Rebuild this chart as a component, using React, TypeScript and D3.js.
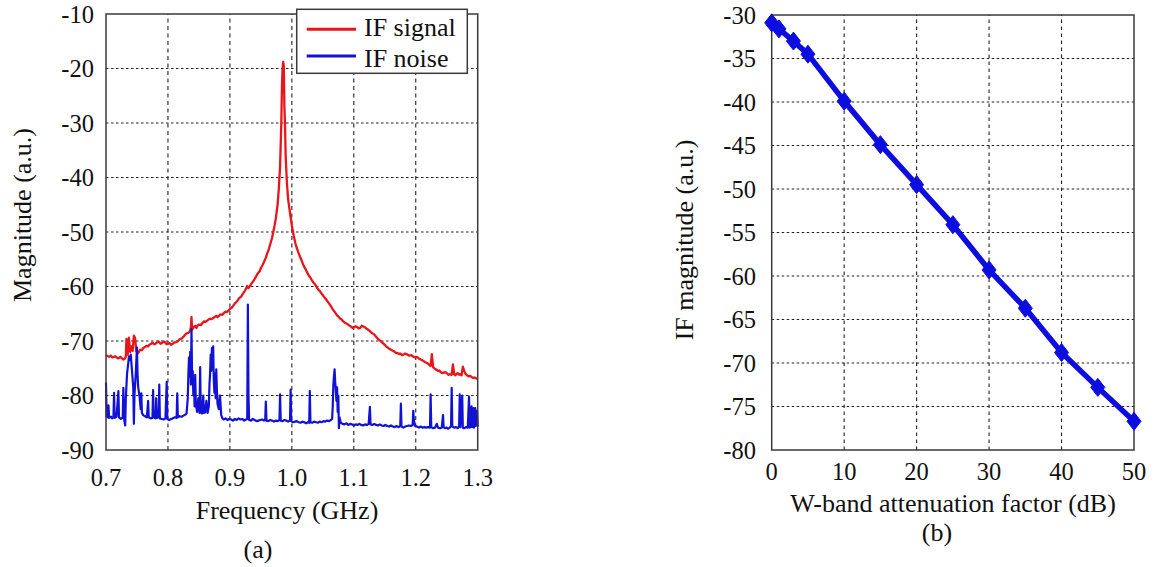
import React from "react";
import * as d3 from "d3";

// (a) IF spectrum: [frequency GHz, magnitude a.u.]
const ifSignal: [number, number][] = [
  [0.700, -72.6], [0.703, -72.8], [0.705, -72.9], [0.708, -72.7], [0.710, -73.0], [0.713, -72.9],
  [0.715, -72.8], [0.718, -73.1], [0.720, -73.2], [0.723, -72.9], [0.725, -73.1], [0.728, -73.4],
  [0.730, -73.3], [0.732, -72.9], [0.733, -69.6], [0.735, -72.5], [0.737, -69.4], [0.739, -72.0],
  [0.741, -71.0], [0.743, -71.8], [0.745, -69.0], [0.747, -69.5], [0.749, -71.9], [0.752, -72.2],
  [0.755, -71.6], [0.758, -71.7], [0.760, -71.3], [0.763, -71.1], [0.765, -70.9], [0.768, -71.0],
  [0.770, -70.7], [0.773, -70.5], [0.775, -70.3], [0.778, -70.6], [0.780, -70.5], [0.783, -70.2],
  [0.785, -70.1], [0.788, -70.5], [0.790, -70.4], [0.793, -70.1], [0.795, -70.2], [0.798, -70.6],
  [0.800, -70.5], [0.803, -70.4], [0.805, -70.7], [0.808, -70.5], [0.810, -70.3], [0.813, -70.2],
  [0.815, -70.1], [0.818, -69.8], [0.820, -69.6], [0.823, -69.5], [0.825, -69.2], [0.828, -68.8],
  [0.830, -68.6], [0.833, -68.5], [0.835, -68.3], [0.837, -67.6], [0.838, -65.6], [0.839, -67.9],
  [0.842, -67.4], [0.844, -67.2], [0.846, -67.6], [0.848, -67.1], [0.850, -67.0], [0.853, -67.1],
  [0.855, -66.8], [0.858, -66.4], [0.860, -66.5], [0.863, -66.3], [0.865, -66.1], [0.868, -65.9],
  [0.870, -66.0], [0.873, -65.8], [0.875, -65.6], [0.878, -65.4], [0.880, -65.6], [0.883, -65.3],
  [0.885, -65.1], [0.888, -65.2], [0.890, -64.9], [0.893, -64.6], [0.895, -64.7], [0.898, -64.4],
  [0.900, -64.1], [0.903, -63.9], [0.905, -63.6], [0.908, -63.1], [0.910, -62.9], [0.913, -62.5],
  [0.915, -62.1], [0.918, -61.9], [0.920, -61.5], [0.923, -61.0], [0.925, -60.6], [0.928, -59.9],
  [0.930, -60.3], [0.933, -59.8], [0.935, -59.4], [0.938, -59.0], [0.940, -58.6], [0.943, -58.0],
  [0.945, -57.6], [0.948, -57.2], [0.950, -56.6], [0.953, -56.0], [0.955, -55.5], [0.958, -54.7],
  [0.960, -54.0], [0.963, -53.1], [0.965, -52.3], [0.968, -51.1], [0.970, -50.0], [0.972, -48.9],
  [0.974, -47.6], [0.977, -45.0], [0.979, -42.0], [0.981, -38.0], [0.983, -30.0], [0.984, -23.5],
  [0.985, -20.0], [0.986, -18.8], [0.987, -19.5], [0.988, -27.0], [0.989, -30.5], [0.990, -36.0],
  [0.992, -41.0], [0.994, -44.0], [0.997, -46.5], [1.000, -48.8], [1.003, -50.7], [1.006, -52.2],
  [1.008, -52.9], [1.010, -53.6], [1.013, -54.5], [1.015, -55.0], [1.018, -55.9], [1.020, -56.4],
  [1.023, -57.0], [1.025, -57.5], [1.028, -58.1], [1.030, -58.4], [1.033, -59.0], [1.035, -59.3],
  [1.038, -59.7], [1.040, -60.1], [1.043, -60.6], [1.045, -60.8], [1.048, -61.3], [1.050, -61.6],
  [1.053, -62.1], [1.055, -62.3], [1.058, -62.8], [1.060, -63.1], [1.063, -63.6], [1.065, -64.0],
  [1.068, -64.5], [1.070, -64.8], [1.073, -65.3], [1.075, -65.5], [1.078, -65.9], [1.080, -66.0],
  [1.083, -66.4], [1.085, -66.6], [1.088, -66.8], [1.090, -66.9], [1.093, -67.2], [1.095, -67.3],
  [1.098, -67.6], [1.100, -67.5], [1.103, -67.3], [1.105, -67.4], [1.108, -67.7], [1.110, -67.6],
  [1.113, -67.2], [1.115, -67.3], [1.118, -67.5], [1.120, -67.7], [1.123, -67.9], [1.125, -68.1],
  [1.128, -68.4], [1.130, -68.6], [1.133, -68.8], [1.135, -69.1], [1.138, -69.5], [1.140, -69.7],
  [1.143, -70.0], [1.145, -70.2], [1.148, -70.5], [1.150, -70.7], [1.153, -71.1], [1.155, -71.2],
  [1.158, -71.5], [1.160, -71.6], [1.163, -71.8], [1.165, -71.9], [1.168, -72.2], [1.170, -72.2],
  [1.173, -72.4], [1.175, -72.3], [1.178, -72.6], [1.180, -72.5], [1.183, -72.3], [1.185, -72.4],
  [1.188, -72.6], [1.190, -72.7], [1.193, -72.6], [1.195, -72.8], [1.198, -73.0], [1.200, -72.9],
  [1.203, -73.0], [1.205, -73.2], [1.208, -73.4], [1.210, -73.5], [1.213, -73.7], [1.215, -73.9],
  [1.218, -74.0], [1.220, -74.2], [1.224, -74.6], [1.226, -72.4], [1.228, -74.8], [1.230, -75.0],
  [1.232, -75.2], [1.234, -75.3], [1.236, -75.5], [1.238, -75.4], [1.240, -75.7], [1.243, -75.9],
  [1.245, -75.8], [1.248, -75.7], [1.250, -75.9], [1.253, -76.2], [1.255, -76.1], [1.258, -76.2],
  [1.260, -74.3], [1.262, -76.1], [1.264, -76.3], [1.266, -76.0], [1.268, -75.9], [1.270, -76.2],
  [1.272, -76.1], [1.274, -76.3], [1.276, -74.7], [1.278, -75.4], [1.280, -76.0], [1.282, -76.2],
  [1.284, -76.4], [1.286, -76.5], [1.288, -76.4], [1.290, -76.6], [1.293, -76.8], [1.295, -76.7],
  [1.298, -76.9], [1.300, -76.9],
];

const ifNoise: [number, number][] = [
  [0.700, -77.6], [0.701, -83.8], [0.703, -84.0], [0.704, -81.8], [0.705, -84.1], [0.708, -83.9],
  [0.710, -84.2], [0.712, -84.0], [0.713, -79.5], [0.714, -84.1], [0.717, -83.9], [0.720, -79.2],
  [0.721, -84.0], [0.724, -84.3], [0.727, -84.0], [0.728, -78.6], [0.729, -84.2], [0.731, -85.5],
  [0.732, -80.5], [0.734, -76.0], [0.736, -74.0], [0.737, -72.8], [0.739, -73.5], [0.740, -72.5],
  [0.742, -75.5], [0.743, -77.0], [0.744, -78.5], [0.745, -85.2], [0.746, -79.8], [0.748, -76.0],
  [0.750, -71.2], [0.751, -76.5], [0.752, -78.5], [0.754, -80.0], [0.756, -82.5], [0.757, -79.6],
  [0.758, -83.2], [0.760, -83.6], [0.763, -83.8], [0.766, -84.0], [0.768, -81.0], [0.769, -84.0],
  [0.772, -84.2], [0.775, -84.1], [0.776, -79.0], [0.777, -84.0], [0.780, -84.2], [0.781, -80.5],
  [0.782, -84.1], [0.785, -84.0], [0.786, -78.0], [0.787, -84.2], [0.790, -84.3], [0.793, -84.4],
  [0.796, -84.2], [0.798, -77.5], [0.799, -84.3], [0.802, -84.5], [0.805, -84.3], [0.808, -84.2],
  [0.811, -84.0], [0.814, -84.1], [0.815, -79.6], [0.816, -84.0], [0.819, -83.8], [0.822, -83.9],
  [0.825, -83.7], [0.828, -83.5], [0.830, -83.3], [0.832, -80.5], [0.833, -76.0], [0.834, -73.0],
  [0.835, -76.5], [0.836, -72.0], [0.837, -78.0], [0.838, -67.8], [0.839, -77.0], [0.840, -75.5],
  [0.841, -80.0], [0.842, -77.0], [0.843, -82.0], [0.844, -76.2], [0.845, -81.5], [0.847, -83.0],
  [0.849, -80.5], [0.851, -83.2], [0.852, -74.8], [0.853, -83.0], [0.855, -83.3], [0.857, -80.0],
  [0.858, -83.2], [0.860, -83.1], [0.862, -81.0], [0.864, -83.2], [0.866, -82.0], [0.867, -78.0],
  [0.868, -76.0], [0.869, -72.5], [0.870, -75.5], [0.871, -71.3], [0.872, -74.0], [0.873, -71.0],
  [0.874, -77.0], [0.875, -79.5], [0.876, -76.0], [0.877, -80.5], [0.878, -75.2], [0.879, -79.0],
  [0.880, -81.5], [0.882, -82.5], [0.884, -80.0], [0.886, -83.6], [0.888, -84.2], [0.890, -84.4],
  [0.893, -84.2], [0.896, -84.5], [0.899, -84.3], [0.902, -84.4], [0.905, -84.6], [0.908, -84.3],
  [0.911, -84.5], [0.914, -84.2], [0.917, -84.4], [0.920, -84.3], [0.923, -84.6], [0.926, -84.4],
  [0.928, -84.3], [0.929, -63.3], [0.930, -80.0], [0.931, -84.5], [0.934, -84.6], [0.937, -84.3],
  [0.940, -84.5], [0.943, -84.7], [0.946, -84.6], [0.949, -84.5], [0.952, -84.4], [0.955, -84.6],
  [0.957, -84.5], [0.958, -81.1], [0.959, -84.6], [0.962, -84.7], [0.965, -84.5], [0.968, -84.6],
  [0.971, -84.8], [0.974, -84.6], [0.977, -84.7], [0.980, -84.5], [0.981, -79.8], [0.982, -84.6],
  [0.985, -84.7], [0.988, -84.5], [0.991, -84.6], [0.994, -84.8], [0.997, -84.6], [0.998, -78.9],
  [0.999, -84.7], [1.002, -84.9], [1.005, -84.8], [1.008, -84.7], [1.011, -84.9], [1.014, -85.0],
  [1.017, -84.8], [1.020, -84.9], [1.023, -85.1], [1.026, -84.9], [1.028, -85.0], [1.029, -79.2],
  [1.030, -84.9], [1.033, -85.0], [1.036, -84.8], [1.039, -84.9], [1.042, -85.0], [1.045, -84.8],
  [1.048, -84.9], [1.051, -84.7], [1.054, -84.8], [1.057, -84.6], [1.060, -84.7], [1.063, -84.5],
  [1.065, -84.3], [1.066, -82.0], [1.067, -78.0], [1.068, -76.5], [1.069, -75.2], [1.070, -77.5],
  [1.071, -79.0], [1.072, -81.0], [1.073, -78.5], [1.074, -83.0], [1.075, -80.0], [1.076, -86.0],
  [1.077, -84.0], [1.079, -85.0], [1.082, -85.2], [1.085, -85.3], [1.088, -85.1], [1.091, -85.4],
  [1.094, -85.2], [1.097, -85.3], [1.100, -85.5], [1.103, -85.3], [1.106, -85.4], [1.109, -85.2],
  [1.112, -85.4], [1.115, -85.5], [1.118, -85.3], [1.121, -85.4], [1.124, -85.2], [1.126, -82.1],
  [1.127, -85.3], [1.130, -85.4], [1.133, -85.2], [1.136, -85.4], [1.139, -85.5], [1.142, -85.3],
  [1.145, -85.5], [1.148, -85.6], [1.151, -85.4], [1.154, -85.6], [1.157, -85.7], [1.160, -85.5],
  [1.163, -85.7], [1.166, -85.8], [1.169, -85.6], [1.172, -85.8], [1.175, -85.6], [1.176, -81.5],
  [1.177, -85.7], [1.180, -85.9], [1.183, -85.7], [1.186, -85.6], [1.189, -85.5], [1.192, -85.6],
  [1.195, -85.4], [1.196, -82.8], [1.197, -84.5], [1.199, -85.6], [1.202, -85.7], [1.205, -85.9],
  [1.208, -85.7], [1.211, -85.9], [1.214, -85.8], [1.217, -85.9], [1.220, -85.8], [1.223, -85.9],
  [1.224, -79.8], [1.225, -85.8], [1.228, -86.0], [1.231, -85.9], [1.234, -85.2], [1.236, -85.9],
  [1.239, -86.0], [1.242, -85.9], [1.244, -83.6], [1.245, -85.8], [1.247, -86.0], [1.250, -85.9],
  [1.252, -86.1], [1.255, -85.9], [1.257, -85.6], [1.258, -78.6], [1.259, -85.7], [1.262, -85.9],
  [1.265, -85.8], [1.268, -86.0], [1.270, -85.7], [1.271, -79.8], [1.272, -85.8], [1.275, -80.0],
  [1.276, -85.9], [1.278, -86.0], [1.281, -85.8], [1.284, -85.9], [1.286, -80.2], [1.287, -85.9],
  [1.289, -85.7], [1.290, -82.0], [1.291, -85.8], [1.293, -82.3], [1.294, -85.9], [1.296, -82.3],
  [1.297, -85.6], [1.299, -82.8], [1.300, -85.7],
];

const freqTicks = [0.7, 0.8, 0.9, 1.0, 1.1, 1.2, 1.3];
const magTicks = [-90, -80, -70, -60, -50, -40, -30, -20, -10];

// (b) IF magnitude against W-band attenuation
const attenuationDb = [0, 1, 3, 5, 10, 15, 20, 25, 30, 35, 40, 45, 50];
const ifMagnitude = [-30.9, -31.6, -33.0, -34.5, -39.9, -44.9, -49.5, -54.1, -59.3, -63.7, -68.8, -72.8, -76.7];
const attTicks = [0, 10, 20, 30, 40, 50];
const ifMagTicks = [-80, -75, -70, -65, -60, -55, -50, -45, -40, -35, -30];

const FONT = "'Liberation Serif', 'Times New Roman', Times, serif";
const RED = "#e8161b";
const BLUE = "#1212d6";
const BLUE_B = "#0d0de0";
const BOX = "#3a3a3a";

export default function App() {
  // panel (a)
  const xA = d3.scaleLinear().domain([0.7, 1.3]).range([106, 477.7]);
  const yA = d3.scaleLinear().domain([-90, -10]).range([450, 14]);
  const lineA = d3
    .line<[number, number]>()
    .x((d) => xA(d[0]))
    .y((d) => yA(d[1]));

  // panel (b)
  const xB = d3.scaleLinear().domain([0, 50]).range([771.7, 1134]);
  const yB = d3.scaleLinear().domain([-80, -30]).range([450, 15]);
  const ptsB: [number, number][] = attenuationDb.map((a, i) => [a, ifMagnitude[i]]);
  const lineB = d3
    .line<[number, number]>()
    .x((d) => xB(d[0]))
    .y((d) => yB(d[1]));

  const diamond = (cx: number, cy: number) =>
    `M${cx},${cy - 9}L${cx + 7},${cy}L${cx},${cy + 9}L${cx - 7},${cy}Z`;

  const txt = { fontFamily: FONT, fill: "#111" };

  return (
    <svg
      width={1154}
      height={567}
      style={{ position: "absolute", left: 0, top: 0, background: "#fff", fontFamily: FONT }}
    >
      <rect x={0} y={0} width={1154} height={567} fill="#fff" />

      {/* ---------- panel (a) ---------- */}
      <g>
        {freqTicks.slice(1, -1).map((t) => (
          <line key={`gx${t}`} x1={xA(t)} x2={xA(t)} y1={yA(-90)} y2={yA(-10)}
            stroke="#222" strokeWidth={1.1} strokeDasharray="4,3.5" />
        ))}
        {magTicks.slice(1, -1).map((t) => (
          <line key={`gy${t}`} x1={xA(0.7)} x2={xA(1.3)} y1={yA(t)} y2={yA(t)}
            stroke="#222" strokeWidth={1.1} strokeDasharray="2.5,2.5" />
        ))}
        <path d={lineA(ifSignal) || ""} fill="none" stroke={RED} strokeWidth={2.3} strokeLinejoin="round" />
        <path d={lineA(ifNoise) || ""} fill="none" stroke={BLUE} strokeWidth={2.2} strokeLinejoin="round" />
        <rect x={xA(0.7)} y={yA(-10)} width={xA(1.3) - xA(0.7)} height={yA(-90) - yA(-10)}
          fill="none" stroke={BOX} strokeWidth={1.5} />

        {magTicks.map((t) => (
          <text key={`ly${t}`} x={94} y={yA(t) + 8.5} fontSize={24.5} textAnchor="end" style={txt}>
            {t}
          </text>
        ))}
        {freqTicks.map((t) => (
          <text key={`lx${t}`} x={xA(t)} y={486} fontSize={24.5} textAnchor="middle" style={txt}>
            {t.toFixed(1)}
          </text>
        ))}
        <text x={287} y={519} fontSize={26} textAnchor="middle" style={txt}>Frequency (GHz)</text>
        <text x={258} y={558} fontSize={26} textAnchor="middle" style={txt}>(a)</text>
        <text transform="translate(31,215) rotate(-90)" fontSize={26} textAnchor="middle" style={txt}>
          Magnitude (a.u.)
        </text>

        {/* legend */}
        <rect x={296.7} y={9.3} width={170.6} height={64} fill="#fff" stroke={BOX} strokeWidth={1.5} />
        <line x1={306.7} x2={356} y1={29.3} y2={29.3} stroke={RED} strokeWidth={3} />
        <line x1={306.7} x2={356} y1={56} y2={56} stroke={BLUE} strokeWidth={3} />
        <text x={364} y={36} fontSize={26} style={txt}>IF signal</text>
        <text x={364} y={66.5} fontSize={26} style={txt}>IF noise</text>
      </g>

      {/* ---------- panel (b) ---------- */}
      <g>
        {attTicks.slice(1, -1).map((t) => (
          <line key={`bgx${t}`} x1={xB(t)} x2={xB(t)} y1={yB(-80)} y2={yB(-30)}
            stroke="#222" strokeWidth={1.1} strokeDasharray="3.5,3.5" />
        ))}
        {ifMagTicks.slice(1, -1).map((t) => (
          <line key={`bgy${t}`} x1={xB(0)} x2={xB(50)} y1={yB(t)} y2={yB(t)}
            stroke="#222" strokeWidth={1.1} strokeDasharray="2.5,2.5" />
        ))}
        <rect x={xB(0)} y={yB(-30)} width={xB(50) - xB(0)} height={yB(-80) - yB(-30)}
          fill="none" stroke={BOX} strokeWidth={1.5} />
        <path d={lineB(ptsB) || ""} fill="none" stroke={BLUE_B} strokeWidth={5.5} strokeLinejoin="round" />
        {ptsB.map((p) => (
          <path key={`m${p[0]}`} d={diamond(xB(p[0]), yB(p[1]))} fill={BLUE_B} stroke={BLUE_B} strokeWidth={1} />
        ))}

        {ifMagTicks.map((t) => (
          <text key={`bly${t}`} x={756} y={yB(t) + 8.5} fontSize={24.5} textAnchor="end" style={txt}>
            {t}
          </text>
        ))}
        {attTicks.map((t) => (
          <text key={`blx${t}`} x={xB(t)} y={480} fontSize={24.5} textAnchor="middle" style={txt}>
            {t}
          </text>
        ))}
        <text x={953} y={512} fontSize={26} textAnchor="middle" style={txt}>
          W-band attenuation factor (dB)
        </text>
        <text x={937} y={541} fontSize={26} textAnchor="middle" style={txt}>(b)</text>
        <text transform="translate(693,240) rotate(-90)" fontSize={26} textAnchor="middle" style={txt}>
          IF magnitude (a.u.)
        </text>
      </g>
    </svg>
  );
}
